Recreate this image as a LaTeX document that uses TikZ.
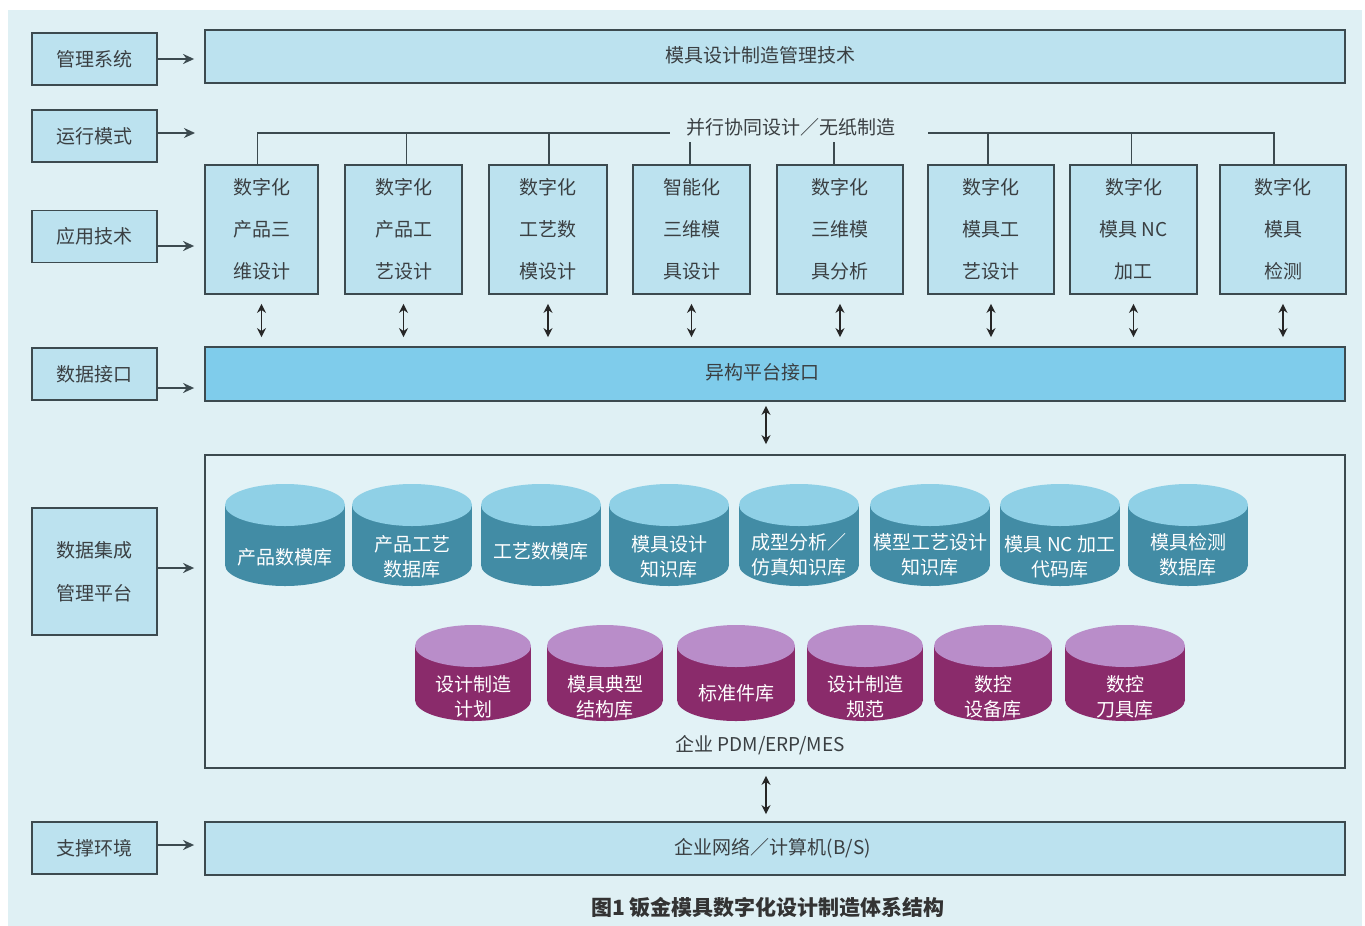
\documentclass[tikz,border=0pt]{standalone}
\usepackage{fontspec}
\newfontfamily\cjk{Noto Sans CJK SC}
\usetikzlibrary{arrows.meta}
\definecolor{bgc}{HTML}{DFF0F4}
\definecolor{boxc}{HTML}{BCE2EF}
\definecolor{ifc}{HTML}{7FCCEB}
\definecolor{bigc}{HTML}{E2F2F6}
\definecolor{bordc}{HTML}{3C4A4F}
\definecolor{txtc}{HTML}{3A3F42}
\definecolor{tealb}{HTML}{428CA5}
\definecolor{tealt}{HTML}{8FD0E6}
\definecolor{purb}{HTML}{8A2B6B}
\definecolor{purt}{HTML}{B98DC9}
\tikzset{
 lbox/.style={draw=bordc, line width=1.8pt, fill=boxc, minimum width=125pt, minimum height=52pt, inner sep=0pt, font=\cjk\fontsize{19}{24}\selectfont, text=txtc},
 abox/.style={draw=bordc, line width=1.8pt, fill=boxc, minimum height=129pt, inner sep=0pt, align=center, font=\cjk\fontsize{19}{42}\selectfont, text=txtc},
 bar/.style={draw=bordc, line width=1.8pt, minimum width=1140pt, inner sep=0pt},
 lbl/.style={font=\cjk\fontsize{19}{24}\selectfont, text=txtc, inner sep=0pt},
 arr/.style={draw=bordc, line width=2pt, -{Stealth[length=11pt,width=10pt]}},
 darr/.style={draw=black!85, line width=1.6pt, {Stealth[length=9pt,width=9pt]}-{Stealth[length=9pt,width=9pt]}},
 ln/.style={draw=bordc, line width=1.8pt},
 cyltxt/.style={font=\cjk\fontsize{19}{25}\selectfont, text=white, align=center, inner sep=0pt},
}
% cx, ytop, height, rx, body colour, top colour, name, text, text offset
\newcommand\dbcyl[9]{%
 \fill[#5] (#1-#4,#2) rectangle (#1+#4,#2+#3);
 \fill[#5] (#1,#2+#3) ellipse [x radius=#4, y radius=21];
 \fill[#6] (#1,#2) ellipse [x radius=#4, y radius=21];
 \node[cyltxt] (#7) at (#1,#2+#9) {#8};
}
\begin{document}
\begin{tikzpicture}[x=1pt,y=-1pt]
\useasboundingbox (0,0) rectangle (1365,926);
\fill[white] (0,0) rectangle (1365,926);
\fill[bgc] (8,10) rectangle (1362,926);

% left column
\node[lbox] (m1) at (94.5,59) {管理系统};
\node[lbox] (m2) at (94.5,136) {运行模式};
\node[lbox] (m3) at (94.5,236.5) {应用技术};
\node[lbox] (m4) at (94.5,374) {数据接口};
\node[lbox, minimum height=127pt, align=center, font=\cjk\fontsize{19}{43}\selectfont] (m5) at (94.5,571.5) {数据集成\\管理平台};
\node[lbox] (m6) at (94.5,848) {支撑环境};

% bars
\node[bar, fill=boxc, minimum height=53pt] (top) at (775,56.5) {};
\node[lbl] (topt) at (760,55) {模具设计制造管理技术};
\node[bar, fill=ifc, minimum height=54pt] (iface) at (775,374) {};
\node[lbl] (ifacet) at (762,372) {异构平台接口};
\node[bar, fill=bigc, minimum height=313pt] (big) at (775,611.5) {};
\node[lbl] (ent) at (760,745) {企业 PDM/ERP/MES};
\node[bar, fill=boxc, minimum height=53pt] (net) at (775,848.5) {};
\node[lbl] (nett) at (773,848) {企业网络／计算机(B/S)};

% running mode
\node[lbl] (run) at (791,127) {并行协同设计／无纸制造};

% application boxes
\node[abox, minimum width=113pt] (a1) at (261.5,229.5) {数字化\\产品三\\维设计};
\node[abox, minimum width=117pt] (a2) at (403.5,229.5) {数字化\\产品工\\艺设计};
\node[abox, minimum width=118pt] (a3) at (548,229.5) {数字化\\工艺数\\模设计};
\node[abox, minimum width=117pt] (a4) at (691.5,229.5) {智能化\\三维模\\具设计};
\node[abox, minimum width=126pt] (a5) at (840,229.5) {数字化\\三维模\\具分析};
\node[abox, minimum width=126pt] (a6) at (991,229.5) {数字化\\模具工\\艺设计};
\node[abox, minimum width=127pt] (a7) at (1133.5,229.5) {数字化\\模具 NC\\加工};
\node[abox, minimum width=126pt] (a8) at (1283,229.5) {数字化\\模具\\检测};

% arrows from the left column
\coordinate (r2) at (195,133);
\draw[arr, shorten >=10pt] (m1.east) -- (m1.east -| top.west);
\draw[arr] ([yshift=3pt]m2.east) -- (r2);
\draw[arr, shorten >=10pt] ([yshift=-9.5pt]m3.east) -- ([yshift=-9.5pt]m3.east -| a1.west);
\draw[arr, shorten >=10pt] ([yshift=-14pt]m4.east) -- ([yshift=-14pt]m4.east -| iface.west);
\draw[arr, shorten >=10pt] ([yshift=3.5pt]m5.east) -- ([yshift=3.5pt]m5.east -| big.west);
\draw[arr, shorten >=10pt] ([yshift=3pt]m6.east) -- ([yshift=3pt]m6.east -| net.west);

% tree lines
\coordinate (hL) at (670,133);
\coordinate (hR) at (928,133);
\draw[ln] ([xshift=-4pt]a1.north) |- (hL);
\draw[ln] ([xshift=-9pt]a8.north) |- (hR);
\draw[ln] ([xshift=3pt]a2.north) -- ([xshift=3pt]a2.north |- hL);
\draw[ln] ([xshift=1pt]a3.north) -- ([xshift=1pt]a3.north |- hL);
\draw[ln] ([xshift=-3pt]a6.north) -- ([xshift=-3pt]a6.north |- hR);
\draw[ln] ([xshift=-2pt]a7.north) -- ([xshift=-2pt]a7.north |- hR);
\draw[ln, shorten >=6pt] ([xshift=-1.5pt]a4.north) -- ([xshift=-1.5pt]a4.north |- run.south);
\draw[ln, shorten >=6pt] ([xshift=-6pt]a5.north) -- ([xshift=-6pt]a5.north |- run.south);

% double arrows
\foreach \i in {1,...,8}
  \draw[darr, shorten <=9pt, shorten >=9pt] (a\i.south) -- (a\i.south |- iface.north);
\draw[darr, shorten <=4pt, shorten >=10pt] ([xshift=-9pt]iface.south) -- ([xshift=-9pt]iface.south |- big.north);
\draw[darr, shorten <=7pt, shorten >=7pt] ([xshift=-9pt]big.south) -- ([xshift=-9pt]big.south |- net.north);

% databases, row 1
\dbcyl{285}{505}{60}{60}{tealb}{tealt}{d1}{产品数模库}{52}
\dbcyl{412}{505}{60}{60}{tealb}{tealt}{d2}{产品工艺\\数据库}{52}
\dbcyl{541}{505}{60}{60}{tealb}{tealt}{d3}{工艺数模库}{46}
\dbcyl{669}{505}{60}{60}{tealb}{tealt}{d4}{模具设计\\知识库}{52}
\dbcyl{799}{505}{60}{60}{tealb}{tealt}{d5}{成型分析／\\仿真知识库}{50}
\dbcyl{930}{505}{60}{60}{tealb}{tealt}{d6}{模型工艺设计\\知识库}{50}
\dbcyl{1060}{505}{60}{60}{tealb}{tealt}{d7}{模具 NC 加工\\代码库}{52}
\dbcyl{1188}{505}{60}{60}{tealb}{tealt}{d8}{模具检测\\数据库}{50}
% databases, row 2
\dbcyl{473}{646}{54}{58}{purb}{purt}{e1}{设计制造\\计划}{51}
\dbcyl{605}{646}{54}{58}{purb}{purt}{e2}{模具典型\\结构库}{51}
\dbcyl{736}{646}{54}{59}{purb}{purt}{e3}{标准件库}{47}
\dbcyl{865}{646}{54}{58}{purb}{purt}{e4}{设计制造\\规范}{51}
\dbcyl{993}{646}{54}{59}{purb}{purt}{e5}{数控\\设备库}{51}
\dbcyl{1125}{646}{54}{60}{purb}{purt}{e6}{数控\\刀具库}{51}

% caption
\node[font=\cjk\bfseries\fontsize{21}{24}\selectfont, text=black!80, inner sep=0pt] (cap) at (768,908) {图1\ 钣金模具数字化设计制造体系结构};
\end{tikzpicture}
\end{document}
